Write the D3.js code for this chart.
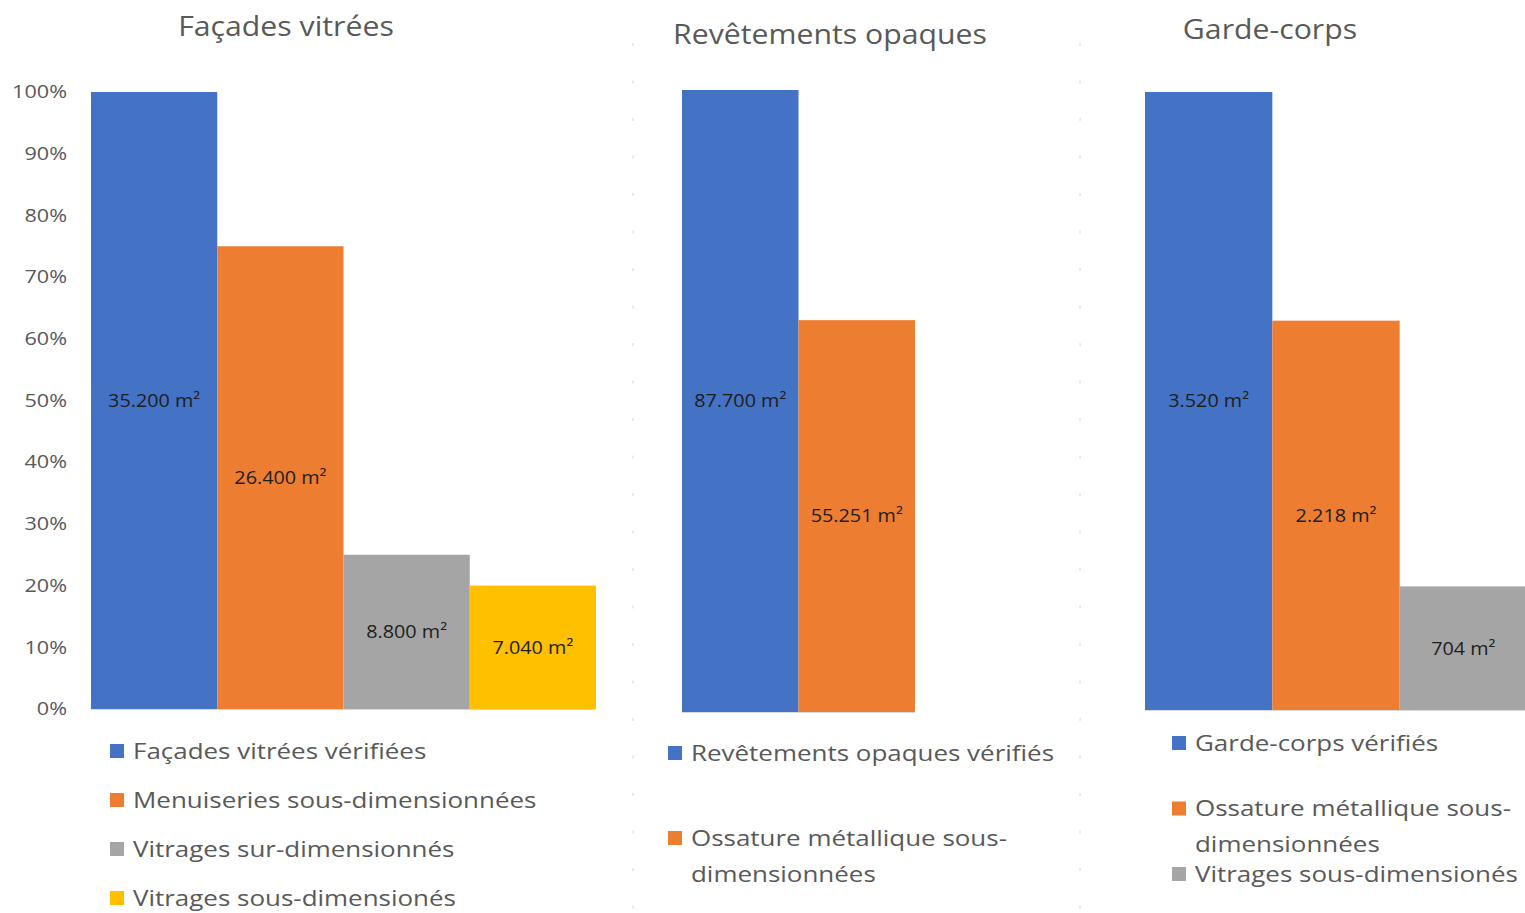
<!DOCTYPE html>
<html><head><meta charset="utf-8">
<script src="https://cdn.jsdelivr.net/npm/d3@7"></script>
<style>html,body{margin:0;padding:0;background:#fff;}svg{display:block;font-family:"Open Sans",sans-serif;}</style>
</head><body>
<svg id="chart" width="1525" height="913"></svg>
<script>
// ---- data ----
const titles = ["Façades vitrées", "Revêtements opaques", "Garde-corps"];
const facadesCategories = ["Façades vitrées vérifiées", "Menuiseries sous-dimensionnées", "Vitrages sur-dimensionnés", "Vitrages sous-dimensionés"];
const facadesValues = [100, 75, 25, 20];
const facadesLabels = ["35.200 m²", "26.400 m²", "8.800 m²", "7.040 m²"];
const revetementsCategories = ["Revêtements opaques vérifiés", "Ossature métallique sous-dimensionnées"];
const revetementsValues = [100, 63];
const revetementsLabels = ["87.700 m²", "55.251 m²"];
const gardeCategories = ["Garde-corps vérifiés", "Ossature métallique sous-dimensionnées", "Vitrages sous-dimensionés"];
const gardeValues = [100, 63, 20];
const gardeLabels = ["3.520 m²", "2.218 m²", "704 m²"];
const yTicks = [0, 10, 20, 30, 40, 50, 60, 70, 80, 90, 100];
const facadesColors = ["#4472C4", "#ED7D31", "#A5A5A5", "#FFC000"];
const revetementsColors = ["#4472C4", "#ED7D31"];
const gardeColors = ["#4472C4", "#ED7D31", "#A5A5A5"];

// ---- layout ----
const panels = [
  {title: titles[0], cats: facadesCategories, vals: facadesValues, labels: facadesLabels, colors: facadesColors,
   x0: 91, x1: 596, yTop: 92, yBot: 709, titleX: 286, titleY: 36, axis: true,
   legX: 110, legY: 751, legStep: 49, legWrap: 400},
  {title: titles[1], cats: revetementsCategories, vals: revetementsValues, labels: revetementsLabels, colors: revetementsColors,
   x0: 682, x1: 915, yTop: 90, yBot: 712, titleX: 830, titleY: 44, axis: false,
   legX: 668, legY: 753, legStep: 85, legWrap: 300},
  {title: titles[2], cats: gardeCategories, vals: gardeValues, labels: gardeLabels, colors: gardeColors,
   x0: 1145, x1: 1527, yTop: 92, yBot: 710, titleX: 1270, titleY: 39, axis: false,
   legX: 1172, legY: 743, legStep: 65.5, legWrap: 290}
];
const sTitle = 1.12, sLeg = 1.18, sTick = 1.2, sLbl = 1.1;

const svg = d3.select("#chart");

// dashed separators between the sub-charts
[633, 1080].forEach(x => {
  svg.append("line").attr("x1", x).attr("x2", x).attr("y1", 43).attr("y2", 913)
    .attr("stroke", "#d6d6d6").attr("stroke-width", 1).attr("stroke-dasharray", "3,34.5");
});

panels.forEach(p => {
  const g = svg.append("g");
  const x = d3.scaleBand().domain(p.cats).range([p.x0, p.x1]).padding(0);
  const y = d3.scaleLinear().domain([0, 100]).range([p.yBot, p.yTop]);

  g.append("text").attr("transform", `translate(${p.titleX},${p.titleY}) scale(${sTitle},1)`).attr("text-anchor", "middle")
    .attr("font-size", 27).attr("fill", "#595959").text(p.title);

  if (p.axis) {
    const ax = d3.axisLeft(y).tickValues(yTicks).tickFormat(d => d + "%").tickSize(0).tickPadding(0);
    const axg = g.append("g").attr("transform", `translate(67,0)`).call(ax);
    axg.select(".domain").remove();
    axg.selectAll("text").attr("font-size", 18).attr("fill", "#595959").attr("font-family", "Open Sans, sans-serif")
      .attr("transform", `scale(${sTick},1)`);
  }

  g.selectAll("rect.bar").data(p.vals).join("rect").attr("class", "bar")
    .attr("x", (d, i) => x(p.cats[i])).attr("width", x.bandwidth())
    .attr("y", d => y(d)).attr("height", d => y(0) - y(d))
    .attr("fill", (d, i) => p.colors[i]);

  g.append("line").attr("x1", p.x0).attr("x2", p.x1).attr("y1", y(0) + 0.5).attr("y2", y(0) + 0.5)
    .attr("stroke", "#d9d9d9").attr("stroke-width", 1);

  g.selectAll("text.lbl").data(p.vals).join("text").attr("class", "lbl")
    .attr("transform", (d, i) => `translate(${x(p.cats[i]) + x.bandwidth() / 2},${(y(d) + y(0)) / 2}) scale(${sLbl},1)`)
    .attr("dy", "0.35em")
    .attr("text-anchor", "middle").attr("font-size", 18).attr("fill", "#1e1e1e")
    .text((d, i) => p.labels[i]);

  // legend
  let yy = p.legY;
  p.cats.forEach((c, i) => {
    g.append("rect").attr("x", p.legX).attr("y", yy - 7).attr("width", 14).attr("height", 14).attr("fill", p.colors[i]);
    const t = g.append("text").attr("transform", `translate(${p.legX + 23},${yy}) scale(${sLeg},1)`).attr("dy", "0.35em")
      .attr("font-size", 22).attr("fill", "#595959").text(c);
    const cut = c.lastIndexOf("sous-");
    if (cut >= 0 && t.node().getComputedTextLength() > p.legWrap) {
      const idx = cut + 5;
      t.text(null);
      t.append("tspan").attr("x", 0).text(c.slice(0, idx));
      t.append("tspan").attr("x", 0).attr("dy", 36).text(c.slice(idx));
    }
    yy += p.legStep;
  });
});
</script>
</body></html>
